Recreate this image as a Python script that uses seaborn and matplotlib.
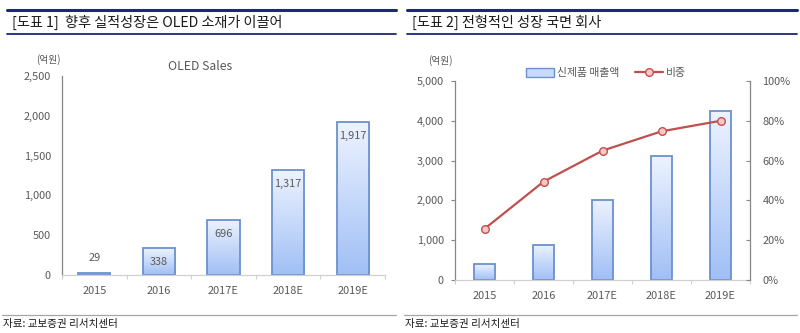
import numpy as np
import pandas as pd
import matplotlib
matplotlib.use("Agg")
import matplotlib.pyplot as plt
from matplotlib.ticker import FuncFormatter, FixedLocator
from matplotlib.colors import LinearSegmentedColormap
from matplotlib.patches import Patch
from matplotlib.lines import Line2D
import seaborn as sns

# ---------------- data ----------------
years = ["2015", "2016", "2017E", "2018E", "2019E"]
oled_sales = [29, 338, 696, 1317, 1917]
new_prod_sales = [390, 890, 2020, 3110, 4235]
new_prod_share = [25.7, 49.4, 65.0, 74.7, 80.0]

title_left = "[도표 1]  향후 실적성장은 OLED 소재가 이끌어"
title_right = "[도표 2] 전형적인 성장 국면 회사"
chart_left_title = "OLED Sales"
unit_label = "(억원)"
legend_bar = "신제품 매출액"
legend_line = "비중"
source = "자료: 교보증권 리서치센터"

# ---------------- style ----------------
sns.set_theme(style="white")
plt.rcParams['font.family'] = ['Noto Sans CJK KR', 'DejaVu Sans']

GRAY_TXT = "#595959"
AXIS_GRAY = "#868686"
NAVY = "#1c2878"
EDGE = "#6b91cf"
RED = "#c0504d"
grad = LinearSegmentedColormap.from_list("g", ["#a0bff5", "#edf3ff"])
TICK_FS = 7.9

W, H = 800, 333
fig = plt.figure(figsize=(8, 3.33), dpi=100)


def fx(px):
    return px / W


def fy(py):
    return 1 - py / H


def gradient_bars(ax, container):
    for p in container.patches:
        x0, y0 = p.get_x(), p.get_y()
        w, h = p.get_width(), p.get_height()
        img = np.linspace(0, 1, 256).reshape(-1, 1)
        im = ax.imshow(img, cmap=grad, origin="lower", aspect="auto",
                       extent=[x0, x0 + w, y0, y0 + h], zorder=1.5,
                       interpolation="bilinear")
        im.set_clip_path(p)
        p.set_facecolor("none")
        p.set_edgecolor(EDGE)
        p.set_linewidth(1.3)
        p.set_zorder(2)


# ---------------- header / footer ----------------
for (x0, x1, ttl) in [(7, 396, title_left), (407, 797, title_right)]:
    fig.add_artist(plt.Line2D([fx(x0), fx(x1)], [fy(10), fy(10)], color=NAVY, lw=2.2))
    fig.add_artist(plt.Line2D([fx(x0), fx(x1)], [fy(34), fy(34)], color=NAVY, lw=1.3))
    fig.text(fx(x0 + 5), fy(22), ttl, fontsize=10.2, color="#1a1a1a", va="center", ha="left")

for (x0, x1) in [(2, 396), (404, 797)]:
    fig.add_artist(plt.Line2D([fx(x0), fx(x1)], [fy(315), fy(315)], color="#a6a6a6", lw=0.9))
    fig.text(fx(x0 + 1), fy(324), source, fontsize=7.6, color="#1a1a1a", va="center", ha="left")


def style_axis(ax):
    sns.despine(ax=ax, top=True, right=True)
    ax.spines["left"].set_color(AXIS_GRAY)
    ax.spines["left"].set_linewidth(0.9)
    ax.spines["bottom"].set_color("#d0d0d0")
    ax.spines["bottom"].set_linewidth(0.9)
    ax.tick_params(axis="y", which="major", length=3, width=0.8, color=AXIS_GRAY,
                   direction="out", labelsize=TICK_FS, labelcolor=GRAY_TXT, pad=5)
    ax.tick_params(axis="x", which="major", length=0, labelsize=TICK_FS,
                   labelcolor=GRAY_TXT, pad=8)
    ax.xaxis.set_minor_locator(FixedLocator(np.arange(-0.5, len(years), 1.0)))
    ax.tick_params(axis="x", which="minor", length=3, width=0.8, color="#d0d0d0",
                   direction="out", bottom=True)
    ax.set_xlabel("")
    ax.set_ylabel("")
    ax.grid(False)


comma = FuncFormatter(lambda v, p: f"{int(v):,}")

# ---------------- left chart ----------------
axL = fig.add_axes([fx(62), fy(275), fx(385 - 62), (275 - 76) / H])
dfL = pd.DataFrame({"year": years, "sales": oled_sales})
sns.barplot(data=dfL, x="year", y="sales", ax=axL, width=0.5, color="#c8dafa",
            saturation=1)
gradient_bars(axL, axL.containers[0])
axL.set_xlim(-0.5, len(years) - 0.5)
axL.set_ylim(0, 2500)
axL.set_yticks(np.arange(0, 2501, 500))
axL.yaxis.set_major_formatter(comma)
style_axis(axL)
for i, v in enumerate(oled_sales):
    if v < 150:
        axL.annotate(f"{v:,}", (i, v), xytext=(0, 7), textcoords="offset points",
                     ha="center", va="bottom", fontsize=TICK_FS, color=GRAY_TXT)
    else:
        axL.annotate(f"{v:,}", (i, v), xytext=(0, -6.5), textcoords="offset points",
                     ha="center", va="top", fontsize=TICK_FS, color=GRAY_TXT)
fig.text(fx(200), fy(67), chart_left_title, fontsize=8.8, color=GRAY_TXT,
         ha="center", va="center")
fig.text(fx(48), fy(60), unit_label, fontsize=7, color=GRAY_TXT, ha="center", va="center")

# ---------------- right chart ----------------
axR = fig.add_axes([fx(455), fy(280), fx(750 - 455), (280 - 81) / H])
dfR = pd.DataFrame({"year": years, "sales": new_prod_sales, "share": new_prod_share})
sns.barplot(data=dfR, x="year", y="sales", ax=axR, width=0.34, color="#c8dafa",
            saturation=1)
gradient_bars(axR, axR.containers[0])
axR.set_xlim(-0.5, len(years) - 0.5)
axR.set_ylim(0, 5000)
axR.set_yticks(np.arange(0, 5001, 1000))
axR.yaxis.set_major_formatter(comma)
style_axis(axR)

axR2 = axR.twinx()
sns.lineplot(data=dfR, x="year", y="share", ax=axR2, sort=False, color=RED,
             lw=1.6, marker="o", markersize=5.5, markerfacecolor="#f6c9c8",
             markeredgecolor=RED, markeredgewidth=1.0)
axR2.set_ylim(0, 100)
axR2.set_yticks(np.arange(0, 101, 20))
axR2.yaxis.set_major_formatter(FuncFormatter(lambda v, p: f"{int(v)}%"))
for s in ["top", "left", "bottom"]:
    axR2.spines[s].set_visible(False)
axR2.spines["right"].set_color(AXIS_GRAY)
axR2.spines["right"].set_linewidth(0.9)
axR2.tick_params(axis="y", length=3, width=0.8, color=AXIS_GRAY, direction="in",
                 labelsize=TICK_FS, labelcolor=GRAY_TXT, pad=9)
axR2.set_ylabel("")
axR2.grid(False)
axR2.set_xlim(-0.5, len(years) - 0.5)

fig.text(fx(440), fy(61), unit_label, fontsize=7, color=GRAY_TXT, ha="center", va="center")

# legend
h_bar = Patch(facecolor="#c8dafa", edgecolor=EDGE, lw=1.0)
h_line = Line2D([], [], color=RED, lw=1.6, marker="o", markersize=5.5,
                markerfacecolor="#f6c9c8", markeredgecolor=RED)
fig.legend([h_bar, h_line], [legend_bar, legend_line], loc="center",
           bbox_to_anchor=(fx(606), fy(73)), ncol=2, frameon=False,
           fontsize=7.8, labelcolor=GRAY_TXT, handlelength=2.6, handleheight=0.9,
           columnspacing=1.4, handletextpad=0.3)

fig.savefig("out.png", dpi=100)
